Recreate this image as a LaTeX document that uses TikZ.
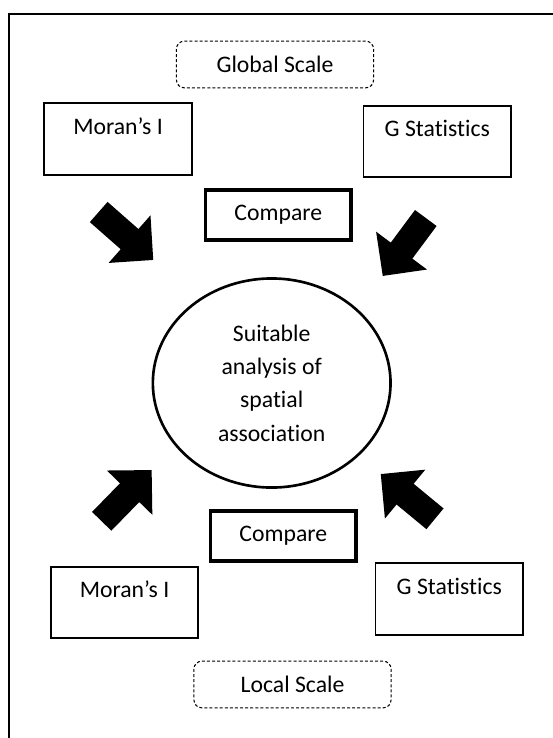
\documentclass[tikz,border=0pt]{standalone}
\usepackage{fontspec}
\setmainfont{Carlito}[Ligatures=NoCommon]
\usepackage{tikz}
\usetikzlibrary{arrows.meta,shapes}

\begin{document}
\begin{tikzpicture}[x=0.02cm,y=-0.02cm,font=\fontsize{13.5}{19}\selectfont]
 \tikzstyle{scalebox}=[draw,line width=0.6pt,dash pattern=on 1.7pt off 1.2pt,rounded corners=4.5pt,minimum width=112.2pt,minimum height=26.6pt]
 \tikzstyle{statbox}=[draw,line width=1pt,minimum width=83.9pt,minimum height=40.6pt,text height=8.7pt,text depth=14pt]
 \tikzstyle{cmpbox}=[draw,line width=2.2pt,minimum width=82.8pt,minimum height=28pt]
 \tikzstyle{bigarrow}=[line width=15.3pt,-{Triangle[length=18pt,width=35pt]}]

 \useasboundingbox (0,0) rectangle (553,738);
 \draw[line width=0.85pt] (9,738) |- (553,14);

   % global scale
   \node[scalebox] (gscale) at (275,64.5) {Global Scale};
   \node[statbox] (moranG) at (118,139) {Moran’s I};
   \node[statbox] (gstatG) at (437.3,141.3) {G Statistics};
   \node[cmpbox] (cmpG) at (278.3,215) {Compare};

   % centre
   \node[ellipse,draw,line width=1.5pt,minimum width=135.3pt,minimum height=119pt,align=center] (suit) at (271.7,383)
     {Suitable\\analysis of\\spatial\\association};

   % local scale
   \node[cmpbox] (cmpL) at (283.3,536) {Compare};
   \node[statbox] (moranL) at (124.5,602.3) {Moran’s I};
   \node[statbox] (gstatL) at (449.3,599) {G Statistics};
   \node[scalebox] (lscale) at (292.5,684.5) {Local Scale};

   \coordinate (ulA) at (98.7,212);  \coordinate (ulB) at (153.3,260);
   \coordinate (urA) at (425.8,218); \coordinate (urB) at (382.7,276);
   \coordinate (llA) at (101.7,521.3); \coordinate (llB) at (151.7,470);
   \coordinate (lrA) at (435,518.8); \coordinate (lrB) at (380.7,474);

  \draw[bigarrow] (ulA) -- (ulB);
  \draw[bigarrow] (urA) -- (urB);
  \draw[bigarrow] (llA) -- (llB);
  \draw[bigarrow] (lrA) -- (lrB);

\end{tikzpicture}
\end{document}
